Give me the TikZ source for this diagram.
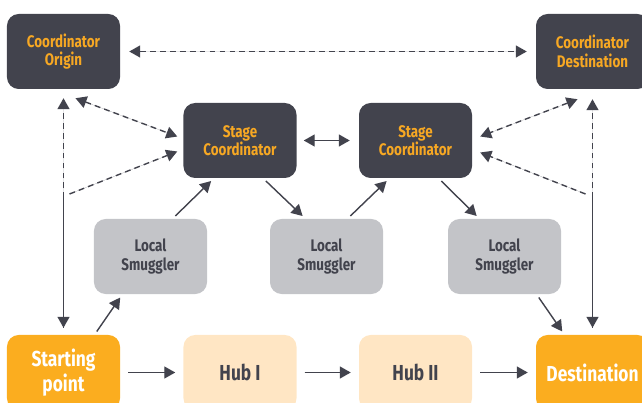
\documentclass[tikz,border=0pt]{standalone}
\usepackage{fontspec}
\setmainfont{Fira Sans}[FakeStretch=0.8]
\usepackage{tikz}
\usetikzlibrary{shapes}
\usetikzlibrary{arrows.meta}
\usetikzlibrary{positioning}

\definecolor{slate}{RGB}{66,67,77}
\definecolor{amber}{RGB}{247,168,35}
\definecolor{amberbox}{RGB}{251,173,31}
\definecolor{fog}{RGB}{195,196,200}
\definecolor{peach}{RGB}{255,230,196}

\begin{document}
\begin{tikzpicture}[x=0.03cm, y=-0.03cm]
			\tikzset{box/.style = {shape=rectangle, rounded corners=3.5mm,
					minimum width=3.39cm, minimum height=2.25cm,
					inner sep = 0pt, align=center,
					font=\bfseries\fontsize{14.3}{15.8}\selectfont}}
			\tikzset{coord/.style = {box, fill=slate, text=amber}}
			\tikzset{smuggler/.style = {box, fill=fog, text=slate}}
			\tikzset{endpoint/.style = {box, fill=amberbox, text=white,
					font=\bfseries\fontsize{18.5}{21.5}\selectfont}}
			\tikzset{hub/.style = {endpoint, fill=peach, text=slate}}
			\tikzset{>={Triangle[length=3.3mm, width=3.6mm]}}
			\tikzset{edge/.style = {->, draw=slate, fill=slate, line width=1.2pt}}
			\tikzset{edgebi/.style = {edge, <->}}
			\tikzset{link/.style = {edge, dash pattern=on 5pt off 3.5pt}}
			\tikzset{gap/.style = {shorten <=0.24cm, shorten >=0.24cm}}
			\tikzset{nudge/.style = {shorten <=0.12cm, shorten >=0.12cm}}

			\useasboundingbox (0,0) rectangle (642,403);

			% vertices
			\node[coord] (origin) at (63.5,51.5) {Coordinator\\Origin};
			\node[coord] (cdest) at (592.5,51.5) {Coordinator\\Destination};
			\node[coord] (stage1) at (240,140.5) {Stage\\Coordinator};
			\node[coord] (stage2) at (415.5,140.5) {Stage\\Coordinator};
			\node[smuggler] (ls1) at (150.5,256.5) {Local\\Smuggler};
			\node[smuggler] (ls2) at (326.5,256.5) {Local\\Smuggler};
			\node[smuggler] (ls3) at (504.5,256.5) {Local\\Smuggler};
			\node[endpoint] (start) at (63.5,372.5) {Starting\\point};
			\node[hub] (hub1) at (240,372.5) {Hub I};
			\node[hub] (hub2) at (415.5,372.5) {Hub II};
			\node[endpoint] (dest) at (592.5,372.5) {Destination};

			\coordinate (lknee) at (63.5,194);
			\coordinate (rknee) at (592.5,194);

			%edges
			\draw[edge, gap] (start) -- (hub1);
			\draw[edge, gap] (hub1) -- (hub2);
			\draw[edge, gap] (hub2) -- (dest);

			\draw[edge, nudge] ([shift={(31,0)}]start.north) -- ([shift={(-28,0)}]ls1.south);
			\draw[edge, nudge] ([shift={(22,0)}]ls1.north) -- ([shift={(-26,0)}]stage1.south);
			\draw[edge, nudge] ([shift={(23,0)}]stage1.south) -- ([shift={(-21,0)}]ls2.north);
			\draw[edge, nudge] ([shift={(21,0)}]ls2.north) -- ([shift={(-26,0)}]stage2.south);
			\draw[edge, nudge] ([shift={(23,0)}]stage2.south) -- ([shift={(-25,0)}]ls3.north);
			\draw[edge, nudge] ([shift={(32,0)}]ls3.south) -- ([shift={(-28,0)}]dest.north);
			\draw[edgebi, shorten <=0.21cm, shorten >=0.27cm] (stage1) -- (stage2);

			% coordinator links
			\draw[link, <->, shorten <=0.27cm, shorten >=0.27cm] (origin) -- (cdest);
			\draw[link, <->] ([shift={(12,9)}]origin.south) -- ([shift={(-6,-4)}]stage1.west);
			\draw[link, <->] ([shift={(-15,10)}]cdest.south) -- ([shift={(8,-4)}]stage2.east);
			\draw[link, ->] ([shift={(0,-7)}]start.north) -- ([shift={(0,9)}]origin.south);
			\draw[link, ->] ([shift={(0,-7)}]dest.north) -- ([shift={(0,10)}]cdest.south);
			\draw[link, ->] ([shift={(6,0)}]lknee) -- ([shift={(-6,11)}]stage1.west);
			\draw[link, ->] ([shift={(-7,0)}]rknee) -- ([shift={(8,12)}]stage2.east);
			\draw[edge] (lknee) -- ([shift={(0,-7)}]start.north);
			\draw[edge] (rknee) -- ([shift={(0,-7)}]dest.north);

			\end{tikzpicture}
\end{document}
